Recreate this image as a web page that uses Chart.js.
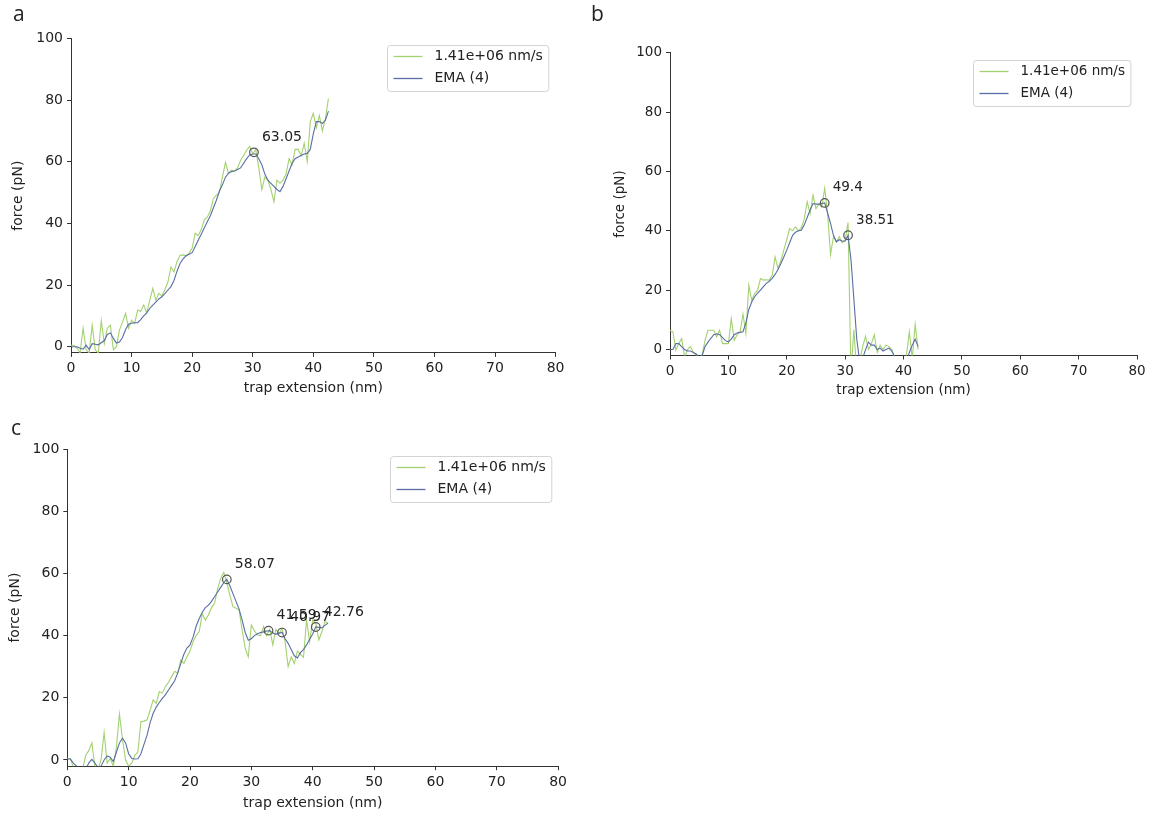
<!DOCTYPE html>
<html>
<head>
<meta charset="utf-8">
<title>force vs trap extension</title>
<script src="https://cdn.jsdelivr.net/npm/chart.js@4.4.1/dist/chart.umd.min.js"></script>
<style>
    html, body { margin: 0; padding: 0; background: #fff; }
    body { width: 1154px; height: 816px; position: relative; overflow: hidden; }
    .panel { position: absolute; width: 577px; height: 408px; }
    .letter { position: absolute; font-family: 'Open Sans', sans-serif; font-size: 21px; line-height: 21px; color: #222; }
</style>
</head>
<body>
<div class="panel" style="left:0;top:0"><canvas id="chartA" width="577" height="408"></canvas></div>
<div class="panel" style="left:577px;top:0"><canvas id="chartB" width="577" height="408"></canvas></div>
<div class="panel" style="left:0;top:408px"><canvas id="chartC" width="577" height="408"></canvas></div>
<div class="letter" style="left:13px;top:3px">a</div>
<div class="letter" style="left:591px;top:3px">b</div>
<div class="letter" style="left:11px;top:417px">c</div>

<script>
// ---- data ----
const xTicks = [0, 10, 20, 30, 40, 50, 60, 70, 80];
const yTicks = [0, 20, 40, 60, 80, 100];
const seriesNames = ['1.41e+06 nm/s', 'EMA (4)'];

// trap extension (nm), shared by every trace
const extension = [0, 0.5, 1, 1.5, 2, 2.5, 3, 3.5, 4, 4.5,
    5, 5.5, 6, 6.5, 7, 7.5, 8, 8.5, 9, 9.5,
    10, 10.5, 11, 11.5, 12, 12.5, 13, 13.5, 14, 14.5,
    15, 15.5, 16, 16.5, 17, 17.5, 18, 18.5, 19, 19.5,
    20, 20.5, 21, 21.5, 22, 22.5, 23, 23.5, 24, 24.5,
    25, 25.5, 26, 26.5, 27, 27.5, 28, 28.5, 29, 29.5,
    30, 30.5, 31, 31.5, 32, 32.5, 33, 33.5, 34, 34.5,
    35, 35.5, 36, 36.5, 37, 37.5, 38, 38.5, 39, 39.5,
    40, 40.5, 41, 41.5, 42, 42.5];

// panel a
const rawA = [0.5, 0.5, -0.5, -2, 6, -1, -2, 7, -1, -2,
    8.4, 1, 6, 7, -1, 0, 5.4, 8, 10.8, 6,
    8.6, 7.5, 11.9, 11.4, 13.5, 11, 15, 18.9, 15.1, 17.3,
    16.5, 18.5, 21, 25.9, 24.3, 27.6, 29.7, 29.8, 29.5, 30.3,
    32, 36.8, 36, 38, 41.1, 42, 44, 48, 49.2, 50,
    55, 59.8, 56.2, 57.3, 57, 58, 60.5, 62, 63.8, 65,
    62.5, 64, 58, 51, 55, 54, 51, 47, 54, 53,
    54, 56, 61, 59, 64, 64, 62, 66, 60, 73,
    75.7, 71, 75, 70, 74, 80.5];
const emaA = [0, 0, 0, -0.5, -0.8, 0.5, -0.9, 1, 0.8, 0.6,
    1.3, 2, 4, 4.5, 2.7, 1.2, 1.5, 3, 5.5, 7.3,
    7.6, 7.8, 7.8, 8.8, 10, 11, 12.4, 13.5, 14.5, 15.5,
    16.2, 17.2, 18.4, 19.5, 21.5, 24.5, 27, 28.5, 29.5, 30,
    30.5, 32.5, 34.5, 36.5, 38.5, 40.5, 42.5, 45, 47.5, 50.5,
    52.5, 55, 56.3, 56.8, 57, 57.5, 58, 59.5, 61, 62.2,
    62.5, 62.5, 61, 59, 56, 54, 53, 52, 51, 50.3,
    52, 54.5, 57, 59.5, 61, 61.5, 62, 62.5, 62.7, 64,
    69, 73, 73, 72.4, 73.5, 76.4];
const peakXA = [30.2];
const peakYA = [63.05];

// panel b
const rawB = [6.5, 6, -0.2, 2, 3.7, -2.5, 0, 1, -1, -2,
    -2.5, -2, 3.1, 6.5, 6.5, 6.5, 4.3, 6.5, 2, 2,
    2, 10.4, 3.1, 5, 6, 12, 5.4, 21.7, 16.6, 18.9,
    20, 23.9, 23.4, 23.5, 23.4, 25, 31.2, 27.3, 30, 33.5,
    37, 40.8, 40, 41.3, 40, 41, 44, 49.8, 45.8, 52,
    47.5, 49, 48, 54.3, 45.8, 32, 38, 36.3, 38, 36,
    36.8, 42.8, -8, 6.7, -8, -4, 1, 4.5, 0, 2,
    5, -1, 1.5, 0, 1.5, 1, 0, -3, -6, -8,
    -5, -2, 6, -3, 8.5, 0];
const emaB = [0, 0, 2, 2, 1, 0, -0.5, -0.5, -1, -1.5,
    -2.5, -2, 1, 2.5, 3.8, 5, 5.3, 5, 4, 3,
    2.6, 3.5, 5, 5.6, 5.8, 6, 9, 13.5, 16, 17.8,
    19, 20, 21.2, 22.3, 23, 24, 25.3, 27, 29, 31.2,
    33.5, 36, 38.5, 39.5, 40, 40.2, 42, 44.5, 47, 49.2,
    49, 49, 49.2, 49.4, 46, 42.5, 38.5, 36.3, 37, 36.5,
    36.6, 38.5, 30.4, 16.9, 3.4, -4, -3, 0, 2.5, 1.5,
    1.5, 0, 0.5, -0.5, 0, 0.5, -0.5, -2.5, -4, -5,
    -5, -4, -1, 1.5, 3.5, 1];
const peakXB = [26.5, 30.5];
const peakYB = [49.4, 38.51];

// panel c
const rawC = [0.5, 0.5, -2.5, -4, -4, -3, 1.5, 3, 5.5, -2,
    -3, 0, 8.8, -1, 0.5, -2, 4, 14.8, 6.5, 0,
    -2, -1, 1.5, 2.5, 12.3, 12.5, 12.9, 16, 19.3, 18.2,
    22, 21.5, 23.6, 25, 26.8, 28.5, 27.9, 32.2, 31, 33.2,
    35, 38, 40, 41.3, 47, 45, 46.6, 49, 50.4, 55,
    58.4, 60.3, 57, 53, 49.3, 48.8, 48.2, 41.8, 35.9, 33.2,
    43.4, 41.5, 40.2, 40, 42.9, 40, 42, 37, 42, 40.5,
    42.3, 38, 30, 33.2, 31, 35, 34, 33, 45, 38,
    45, 44, 38.6, 41.3, 44.5, 44];
const emaC = [0.3, 0.3, -1, -2, -3, -3, -3, -1, 0.2, -1,
    -2.5, -2, 0, 1.3, 0.9, -0.5, 2.5, 5.5, 7, 5.5,
    2, 0.5, 0.3, 0.4, 2, 5, 8, 12, 15, 17,
    18.5, 19.8, 21, 22.5, 24, 25.5, 28, 31, 34, 36,
    37, 39.5, 43, 45.5, 47.5, 49, 49.8, 51, 52.5, 54,
    55.5, 57, 58.1, 56, 53.5, 51, 48.5, 45, 41, 38.5,
    39, 40, 40.6, 41, 41.2, 41.5, 41.6, 40.8, 40.4, 40.8,
    41, 39, 37.5, 35.5, 33.5, 32.8, 34.5, 35.5, 37, 38.8,
    40.5, 42.8, 42.7, 42.5, 43.3, 44];
const peakXC = [26, 32.8, 35, 40.5];
const peakYC = [58.07, 41.59, 40.97, 42.76];

// ---- styling ----
const rawColor = '#a3d170';
const emaColor = '#5a6ea5';
const axisColor = '#333';
const textColor = '#222';
const fontFamily = "'DejaVu Sans', sans-serif";

Chart.defaults.font.family = fontFamily;

// where the plot box sits inside each 577x408 canvas
let panels = [
    {id: 'chartA', raw: rawA, ema: emaA, peakX: peakXA, peakY: peakYA, fs: 14,
        pad: {left: 10.2, right: 21.4, top: 38.4, bottom: 11.6}, yW: 60.8, xH: 43.5},
    {id: 'chartB', raw: rawB, ema: emaB, peakX: peakXB, peakY: peakYB, fs: 13.5,
        pad: {left: 35.2, right: 17, top: 52.7, bottom: 9.6}, yW: 57.8, xH: 42.9},
    {id: 'chartC', raw: rawC, ema: emaC, peakX: peakXC, peakY: peakYC, fs: 14,
        pad: {left: 7.2, right: 18.9, top: 41, bottom: 4.3}, yW: 60.1, xH: 45.5}
];

// peak labels + legend box, drawn on top of the traces
function makeDecor(p){
    return {
        id: 'decor',
        afterDatasetsDraw(chart){
            let ctx = chart.ctx;
            let area = chart.chartArea;
            let xs = chart.scales.x;
            let ys = chart.scales.y;
            ctx.save();
            ctx.font = p.fs + 'px ' + fontFamily;
            ctx.fillStyle = textColor;
            ctx.textAlign = 'left';
            ctx.textBaseline = 'middle';
            for(let i = 0; i < p.peakX.length; i++){
                let px = xs.getPixelForValue(p.peakX[i]);
                let py = ys.getPixelForValue(p.peakY[i]);
                ctx.fillText(String(p.peakY[i]), px + 8, py - 15);
            }

            // legend
            let fs = 14 * p.fs / 14;
            ctx.font = fs + 'px ' + fontFamily;
            let tw = Math.max(...seriesNames.map(n => ctx.measureText(n).width));
            let w = 47 + tw + 6;
            let h = 46;
            let bx = Math.round(area.right - 7 - w) + 0.5;
            let by = Math.round(area.top + 7) + 0.5;
            let r = 3;
            ctx.beginPath();
            ctx.moveTo(bx + r, by);
            ctx.lineTo(bx + w - r, by);
            ctx.arcTo(bx + w, by, bx + w, by + r, r);
            ctx.lineTo(bx + w, by + h - r);
            ctx.arcTo(bx + w, by + h, bx + w - r, by + h, r);
            ctx.lineTo(bx + r, by + h);
            ctx.arcTo(bx, by + h, bx, by + h - r, r);
            ctx.lineTo(bx, by + r);
            ctx.arcTo(bx, by, bx + r, by, r);
            ctx.closePath();
            ctx.fillStyle = 'rgba(255,255,255,0.85)';
            ctx.fill();
            ctx.strokeStyle = '#d3d3d3';
            ctx.lineWidth = 1;
            ctx.stroke();

            let colors = [rawColor, emaColor];
            for(let i = 0; i < seriesNames.length; i++){
                let ry = by + 11 + i * 22;
                ctx.beginPath();
                ctx.moveTo(bx + 6, ry);
                ctx.lineTo(bx + 35, ry);
                ctx.strokeStyle = colors[i];
                ctx.lineWidth = 1.3;
                ctx.stroke();
                ctx.fillStyle = textColor;
                ctx.fillText(seriesNames[i], bx + 47, ry);
            }
            ctx.restore();
        }
    };
}

function toPoints(xs, ys){
    return xs.map((x, i) => ({x: x, y: ys[i]}));
}

function buildChart(p){
    let canvas = document.getElementById(p.id);
    let config = {
        type: 'line',
        data: {
            datasets: [
                {
                    label: seriesNames[0],
                    data: toPoints(extension, p.raw),
                    borderColor: rawColor,
                    borderWidth: 1.1,
                    pointRadius: 0,
                    tension: 0,
                    order: 2
                },
                {
                    label: seriesNames[1],
                    data: toPoints(extension, p.ema),
                    borderColor: emaColor,
                    borderWidth: 1.1,
                    pointRadius: 0,
                    tension: 0,
                    order: 1
                },
                {
                    label: 'peaks',
                    data: toPoints(p.peakX, p.peakY),
                    showLine: false,
                    pointRadius: 4.3,
                    pointBorderWidth: 1.2,
                    pointBorderColor: '#555',
                    pointBackgroundColor: 'rgba(0,0,0,0)',
                    order: 0
                }
            ]
        },
        options: {
            responsive: false,
            animation: false,
            devicePixelRatio: 1,
            layout: {padding: p.pad},
            plugins: {
                legend: {display: false},
                tooltip: {enabled: false}
            },
            scales: {
                x: {
                    type: 'linear',
                    min: 0,
                    max: 80,
                    afterBuildTicks: s => { s.ticks = xTicks.map(v => ({value: v})); },
                    afterFit: s => { s.height = p.xH; },
                    grid: {drawOnChartArea: false, drawTicks: true, tickLength: 4, color: axisColor},
                    border: {display: true, color: axisColor, width: 1},
                    ticks: {color: textColor, font: {size: p.fs}, padding: 3.5, autoSkip: false, maxRotation: 0},
                    title: {display: true, text: 'trap extension (nm)', color: textColor, font: {size: p.fs}, padding: 0}
                },
                y: {
                    type: 'linear',
                    min: -2,
                    max: 100,
                    afterBuildTicks: s => { s.ticks = yTicks.map(v => ({value: v})); },
                    afterFit: s => { s.width = p.yW; },
                    grid: {drawOnChartArea: false, drawTicks: true, tickLength: 4, color: axisColor},
                    border: {display: true, color: axisColor, width: 1},
                    ticks: {color: textColor, font: {size: p.fs}, padding: 4, autoSkip: false},
                    title: {display: true, text: 'force (pN)', color: textColor, font: {size: p.fs}, padding: 0}
                }
            }
        },
        plugins: [makeDecor(p)]
    };
    return new Chart(canvas, config);
}

let charts = panels.map(buildChart);
</script>
</body>
</html>
